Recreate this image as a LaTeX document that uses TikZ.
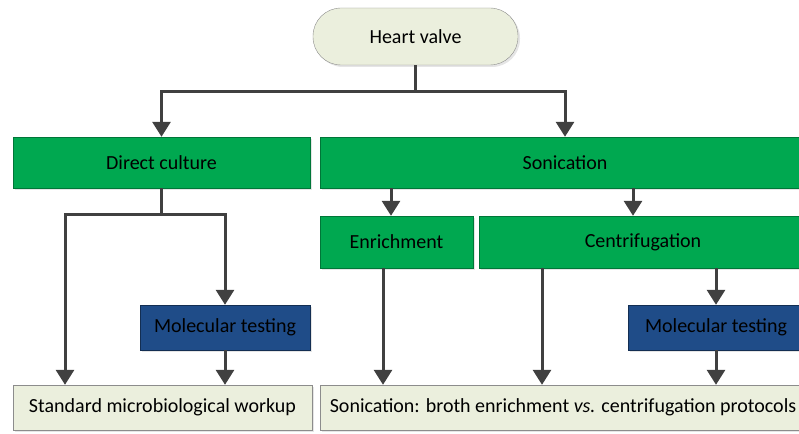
\documentclass[tikz,border=0pt]{standalone}
\usepackage{fontspec}
\setmainfont{Carlito}
\usetikzlibrary{positioning,arrows.meta,shadows}
\definecolor{boxgreen}{RGB}{0,168,80}
\definecolor{boxblue}{RGB}{31,76,136}
\definecolor{boxbeige}{RGB}{235,239,221}
\definecolor{linegray}{RGB}{64,64,64}

\begin{document}
\begin{tikzpicture}[x=1pt, y=-1pt,
  box/.style={rectangle, inner sep=0pt, font=\fontsize{20}{24}\selectfont, text=black, drop shadow={shadow xshift=2pt, shadow yshift=-2pt, fill=black!20}},
  grn/.style={box, fill=boxgreen, draw=boxgreen!70!black, minimum height=51pt},
  blu/.style={box, fill=boxblue, draw=boxblue!60!black, minimum height=45pt},
  bei/.style={box, fill=boxbeige, draw=black!45, minimum height=45pt},
  ln/.style={line width=3pt, draw=linegray},
  arr/.style={ln, -{Triangle[length=15pt,width=18pt]}}]
  \useasboundingbox (0,0) rectangle (799,433);
  \node[bei, rounded corners=28pt, minimum width=205pt, minimum height=57pt] (hv) at (415.5,36.5) {Heart valve};

  \node[grn, minimum width=297pt] (dc) at (161.5,162.5) {Direct culture};
  \node[grn, minimum width=490pt] (son) at (565,162.5) {Sonication};
  \node[grn, minimum width=153pt, minimum height=52pt] (enr) at (396.5,242) {Enrichment};
  \node[grn, minimum width=328pt, minimum height=52pt] (cen) at (643,242) {Centrifugation};

  \node[blu, minimum width=170pt] (mt1) at (225,327.5) {Molecular testing};
  \node[blu, minimum width=176pt] (mt2) at (716,327.5) {Molecular testing};

  \node[bei, minimum width=299pt] (smw) at (162.5,407.5) {Standard microbiological workup};
  \node[bei, minimum width=486pt] (sbe) at (563,407.5) {Sonication: broth enrichment \textit{vs.} centrifugation protocols};

  \coordinate (j1) at (415.5,92);
  \coordinate (j2) at (161.5,214);
  \coordinate (c1) at (65,0);
  \coordinate (c3) at (391,0);
  \coordinate (c4) at (633,0);
  \coordinate (c5) at (383,0);
  \coordinate (c6) at (542,0);

  \draw[ln] (hv) -- (j1);
  \draw[arr] (j1) -| (dc);
  \draw[arr] (j1) -| (son);
  \draw[ln] (dc) -- (j2);
  \draw[arr] (j2) -| (smw.north -| c1);
  \draw[arr] (j2) -| (mt1);
  \draw[arr] (mt1) -- (smw.north -| mt1);
  \draw[arr] (son.south -| c3) -- (enr.north -| c3);
  \draw[arr] (son.south -| c4) -- (cen.north -| c4);
  \draw[arr] (enr.south -| c5) -- (sbe.north -| c5);
  \draw[arr] (cen.south -| c6) -- (sbe.north -| c6);
  \draw[arr] (cen.south -| mt2) -- (mt2);
  \draw[arr] (mt2) -- (sbe.north -| mt2);
\end{tikzpicture}
\end{document}
